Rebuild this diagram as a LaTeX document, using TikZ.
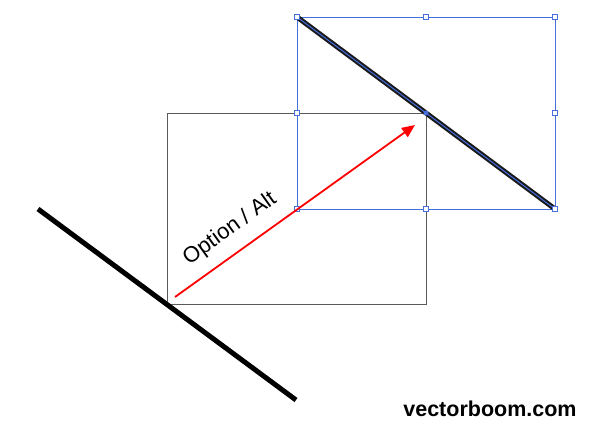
\documentclass[tikz,border=0pt]{standalone}
\usepackage{fontspec}
\setmainfont{Liberation Sans}
\usetikzlibrary{arrows.meta}
\definecolor{selblue}{RGB}{70,110,220}
\definecolor{boxgray}{RGB}{90,90,90}
\tikzset{
  handle/.style={draw=selblue, fill=white, line width=0.8pt, minimum size=5pt, inner sep=0pt, rectangle},
  thickline/.style={line width=5pt, black},
  arrowline/.style={draw=red, line width=1.8pt, -{Triangle[length=13pt,width=11pt]}}
}
\begin{document}
\begin{tikzpicture}[x=1pt,y=-1pt]
\useasboundingbox (0,0) rectangle (590,432);
% original gray box
\draw[boxgray, line width=0.9pt] (167,113) rectangle (426,304);
% original line
\coordinate (la) at (38,209);
\coordinate (lb) at (296,400);
\draw[thickline] (la) -- (lb);
% selection box
\coordinate (s1) at (297,17);
\coordinate (s2) at (555,209);
\draw[selblue, line width=0.9pt] (s1) rectangle (s2);
% copied line
\draw[thickline, line width=5pt, black!90] (s1) -- (s2);
\draw[selblue, line width=1pt] (s1) -- (s2);
% handles
\foreach \n/\x/\y in {h1/297/17,h2/426/17,h3/555/17,h4/297/113,h5/555/113,h6/297/209,h7/426/209,h8/555/209}
  \node[handle] (\n) at (\x,\y) {};
\node[fill=selblue, circle, inner sep=0pt, minimum size=5pt] (ctr) at (426,113) {};
% arrow
\coordinate (as) at (175,297);
\coordinate (ae) at (415,125);
\draw[arrowline] (as) -- (ae);
\node[rotate=35.7, font=\fontsize{22}{25}\selectfont, inner sep=0pt] (lbl) at (230,229) {Option / Alt};
\node[font=\fontsize{21.5}{24}\selectfont\bfseries, inner sep=0pt] (wm) at (490,409) {vectorboom.com};
\end{tikzpicture}
\end{document}
